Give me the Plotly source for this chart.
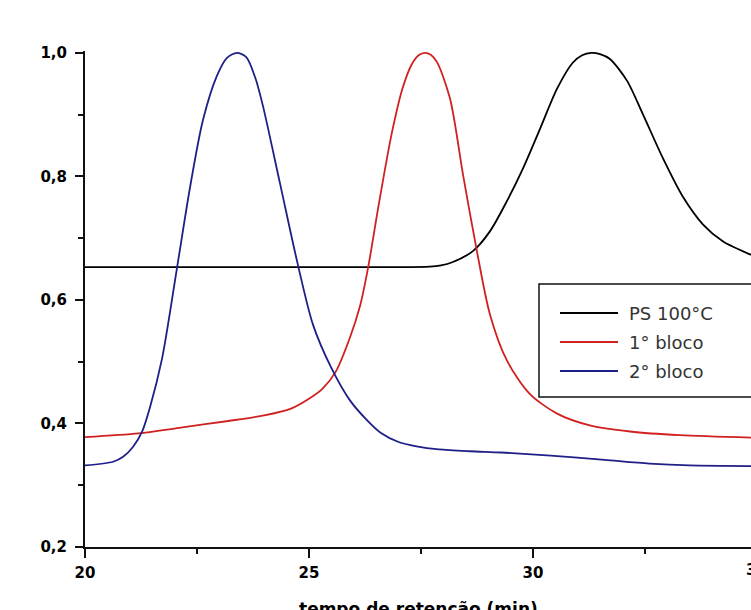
import plotly.graph_objects as go

# ---- data ----
x_ps = [20.0, 24.0, 27.7, 27.95, 28.2, 28.66, 29.04, 29.42, 29.78, 30.16, 30.54, 30.89, 31.1, 31.3,
        31.5, 31.72, 32.1, 32.46, 32.9, 33.35, 33.8, 34.24, 34.87]
y_ps = [0.653, 0.653, 0.654, 0.656, 0.661, 0.679, 0.711, 0.76, 0.813, 0.877, 0.942, 0.984, 0.996, 1.0,
        0.998, 0.99, 0.955, 0.9, 0.83, 0.767, 0.722, 0.695, 0.673]

x_b1 = [20.0, 21.2, 22.1, 23.2, 24.0, 24.6, 25.0, 25.3, 25.6, 25.92, 26.14, 26.32, 26.56, 26.85,
        27.1, 27.3, 27.45, 27.59, 27.72, 27.86, 28.15, 28.44, 28.75, 29.04, 29.42, 29.93, 30.54,
        31.27, 32.17, 33.28, 34.87]
y_b1 = [0.378, 0.384, 0.393, 0.404, 0.413, 0.424, 0.44, 0.456, 0.484, 0.54, 0.59, 0.652, 0.755, 0.87,
        0.945, 0.982, 0.996, 1.0, 0.997, 0.985, 0.926, 0.803, 0.679, 0.577, 0.502, 0.448, 0.416,
        0.397, 0.387, 0.381, 0.377]

x_b2 = [20.0, 20.63, 20.85, 21.07, 21.27, 21.45, 21.72, 22.05, 22.34, 22.63, 22.94, 23.17, 23.39,
        23.6, 23.8, 23.97, 24.35, 24.75, 25.09, 25.5, 25.92, 26.3, 26.6, 27.0, 27.4, 27.9, 28.6,
        29.3, 30.4, 31.6, 32.6, 33.5, 34.87]
y_b2 = [0.332, 0.338, 0.346, 0.362, 0.386, 0.426, 0.505, 0.65, 0.78, 0.89, 0.962, 0.992, 1.0,
        0.993, 0.96, 0.915, 0.79, 0.658, 0.56, 0.49, 0.437, 0.405, 0.385, 0.37, 0.363, 0.358, 0.355,
        0.353, 0.348, 0.341, 0.335, 0.332, 0.331]

series_names = ["PS 100°C", "1° bloco", "2° bloco"]
series_colors = ["#000000", "#d02020", "#1f1f88"]

x_title = "tempo de retenção (min)"
x_range = [20, 34.87]
y_range = [0.2, 1.003]

# ---- figure ----
W, H = 751, 610
ML, MR, MT, MB = 85, 0, 51, 63
PW, PH = W - ML - MR, H - MT - MB

def px_x(p):
    return (p - ML) / PW

def px_y(p):
    return (H - MB - p) / PH

fig = go.Figure()
for xs, ys, nm, col in zip([x_ps, x_b1, x_b2], [y_ps, y_b1, y_b2], series_names, series_colors):
    fig.add_trace(go.Scatter(x=xs, y=ys, mode="lines", name=nm, showlegend=False, hoverinfo="skip",
                             line=dict(color=col, width=1.8, shape="spline", smoothing=0.8)))

tickfont = dict(family="DejaVu Sans", size=15, color="#000000", weight="bold")

fig.update_layout(
    width=W, height=H,
    margin=dict(l=ML, r=MR, t=MT, b=MB, pad=0),
    paper_bgcolor="white", plot_bgcolor="white",
    separators=",.",
    showlegend=False,
)
fig.update_xaxes(
    range=x_range, showgrid=False, zeroline=False,
    showline=True, linecolor="#111111", linewidth=2,
    tick0=20, dtick=5, ticks="outside", ticklen=9, tickwidth=2, tickcolor="#111111",
    tickfont=tickfont, ticklabelstandoff=2,
    minor=dict(dtick=2.5, ticks="outside", ticklen=5, tickwidth=2, tickcolor="#111111", showgrid=False),
)
fig.update_yaxes(
    range=y_range, showgrid=False, zeroline=False,
    showline=True, linecolor="#111111", linewidth=2,
    tick0=0.2, dtick=0.2, tickformat=".1f", ticks="outside", ticklen=8, tickwidth=2, tickcolor="#111111",
    tickfont=tickfont, ticklabelstandoff=5,
    minor=dict(dtick=0.1, ticks="outside", ticklen=5, tickwidth=2, tickcolor="#111111", showgrid=False),
)

# cut-off "35" tick label at the right edge
fig.add_annotation(xref="paper", yref="paper", x=(35 - x_range[0]) / (x_range[1] - x_range[0]), y=0,
                   yshift=-23, text="35", showarrow=False, font=tickfont,
                   xanchor="center", yanchor="middle")

# x axis title (partly cut by the bottom edge)
fig.add_annotation(xref="paper", yref="paper", x=0.5, y=0, yshift=-50, text=x_title, showarrow=False,
                   font=dict(family="DejaVu Sans", size=17, color="#000000", weight="bold"),
                   xanchor="center", yanchor="top")

# legend box (extends past the right edge)
fig.add_shape(type="rect", xref="paper", yref="paper", x0=px_x(539), x1=px_x(765),
              y0=px_y(397), y1=px_y(284), line=dict(color="#111111", width=1.5), fillcolor="white",
              layer="above")
row_y = [313, 342, 371]
for nm, col, ry in zip(series_names, series_colors, row_y):
    fig.add_shape(type="line", xref="paper", yref="paper", x0=px_x(560), x1=px_x(618),
                  y0=px_y(ry), y1=px_y(ry), line=dict(color=col, width=1.8), layer="above")
    fig.add_annotation(xref="paper", yref="paper", x=px_x(627), y=px_y(ry), text=nm, showarrow=False,
                       font=dict(family="DejaVu Sans", size=18, color="#333333"),
                       xanchor="left", yanchor="middle")

fig.write_html(
    "out.html",
    config={"displayModeBar": False},
    post_script="document.body.style.margin='0';document.body.style.overflow='hidden';"
                "document.documentElement.style.overflow='hidden';",
)
